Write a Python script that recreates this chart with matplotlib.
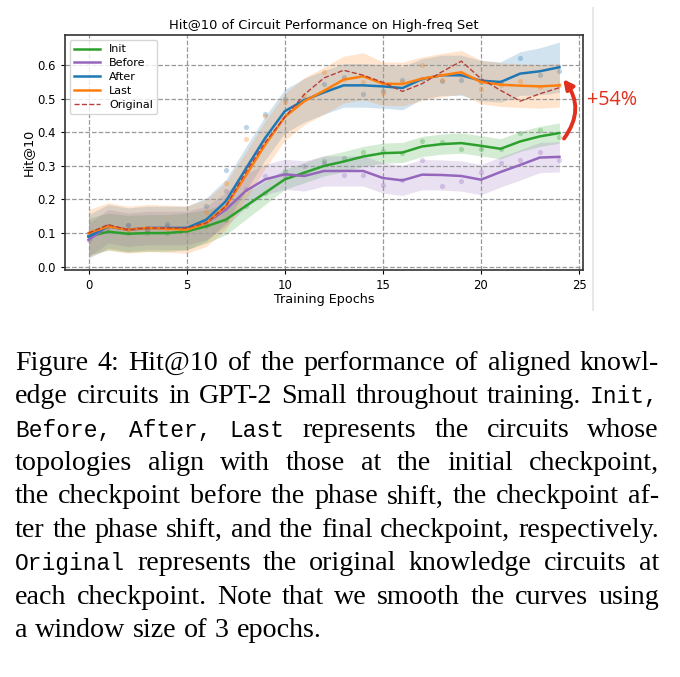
import matplotlib
matplotlib.use("Agg")
import matplotlib.pyplot as plt
from matplotlib.lines import Line2D

# epochs and smoothed curves
epochs = list(range(25))

init_line = [0.090, 0.104, 0.098, 0.100, 0.100, 0.105, 0.120, 0.140, 0.180, 0.220,
             0.260, 0.280, 0.300, 0.313, 0.328, 0.338, 0.340, 0.358, 0.365, 0.368,
             0.360, 0.351, 0.373, 0.388, 0.398]
before_line = [0.080, 0.120, 0.110, 0.115, 0.115, 0.115, 0.130, 0.170, 0.225, 0.260,
               0.275, 0.270, 0.285, 0.285, 0.285, 0.264, 0.257, 0.274, 0.273, 0.270,
               0.259, 0.282, 0.303, 0.325, 0.327]
after_line = [0.090, 0.120, 0.110, 0.115, 0.115, 0.115, 0.140, 0.195, 0.290, 0.383,
              0.463, 0.496, 0.519, 0.540, 0.540, 0.537, 0.532, 0.559, 0.570, 0.570,
              0.554, 0.550, 0.575, 0.582, 0.594]
last_line = [0.100, 0.120, 0.110, 0.115, 0.113, 0.110, 0.130, 0.180, 0.270, 0.363,
             0.446, 0.493, 0.524, 0.557, 0.567, 0.545, 0.544, 0.560, 0.570, 0.579,
             0.550, 0.542, 0.539, 0.537, 0.540]
original_line = [0.100, 0.125, 0.110, 0.115, 0.115, 0.115, 0.130, 0.180, 0.280, 0.370,
                 0.445, 0.513, 0.562, 0.585, 0.570, 0.549, 0.522, 0.545, 0.580, 0.612,
                 0.560, 0.525, 0.493, 0.515, 0.533]

# half-widths of the shaded bands
init_sd = [0.055, 0.055, 0.055, 0.055, 0.055, 0.055, 0.050, 0.045, 0.040, 0.035,
           0.030, 0.030, 0.030, 0.030, 0.030, 0.030, 0.030, 0.030, 0.030, 0.030,
           0.030, 0.030, 0.030, 0.030, 0.030]
before_sd = [0.050, 0.050, 0.050, 0.050, 0.050, 0.050, 0.050, 0.050, 0.050, 0.045,
             0.045, 0.045, 0.045, 0.045, 0.045, 0.045, 0.045, 0.045, 0.045, 0.045,
             0.045, 0.045, 0.045, 0.045, 0.045]
after_sd = [0.065, 0.065, 0.065, 0.065, 0.065, 0.065, 0.065, 0.065, 0.065, 0.065,
            0.065, 0.065, 0.065, 0.065, 0.065, 0.065, 0.065, 0.060, 0.060, 0.060,
            0.060, 0.060, 0.065, 0.070, 0.075]
last_sd = [0.070, 0.070, 0.070, 0.070, 0.070, 0.070, 0.070, 0.070, 0.070, 0.070,
           0.070, 0.070, 0.070, 0.070, 0.070, 0.065, 0.065, 0.065, 0.065, 0.065,
           0.065, 0.065, 0.065, 0.065, 0.065]

# raw (unsmoothed) points
init_raw = [0.090, 0.105, 0.100, 0.100, 0.100, 0.105, 0.120, 0.140, 0.180, 0.220,
            0.285, 0.280, 0.315, 0.324, 0.340, 0.345, 0.338, 0.375, 0.372, 0.351,
            0.351, 0.350, 0.398, 0.406, 0.386]
before_raw = [0.080, 0.120, 0.125, 0.110, 0.120, 0.115, 0.130, 0.224, 0.230, 0.270,
              0.270, 0.300, 0.310, 0.274, 0.272, 0.244, 0.259, 0.318, 0.241, 0.256,
              0.282, 0.309, 0.318, 0.341, 0.318]
after_raw = [0.090, 0.120, 0.125, 0.110, 0.127, 0.115, 0.180, 0.287, 0.416, 0.456,
             0.500, 0.500, 0.544, 0.565, 0.515, 0.522, 0.557, 0.560, 0.554, 0.557,
             0.549, 0.550, 0.620, 0.572, 0.582]
last_raw = [0.100, 0.120, 0.110, 0.115, 0.113, 0.110, 0.164, 0.250, 0.381, 0.450,
            0.490, 0.510, 0.580, 0.560, 0.550, 0.518, 0.550, 0.602, 0.557, 0.570,
            0.530, 0.540, 0.552, 0.535, 0.540]

caption_lines = [
    "Figure 4: Hit@10 of the performance of aligned knowl-",
    "edge circuits in GPT-2 Small throughout training. `Init,",
    "`Before, `After, `Last represents the circuits whose",
    "topologies align with those at the initial checkpoint,",
    "the checkpoint before the phase shift, the checkpoint af-",
    "ter the phase shift, and the final checkpoint, respectively.",
    "`Original represents the original knowledge circuits at",
    "each checkpoint. Note that we smooth the curves using",
    "a window size of 3 epochs.",
]

W, H = 680, 677
fig = plt.figure(figsize=(W / 100, H / 100), dpi=100)
ax = fig.add_axes([65 / W, 1 - 270 / H, (583 - 65) / W, (270 - 35) / H])

series = [
    ("Init", init_line, init_sd, init_raw, "tab:green"),
    ("Before", before_line, before_sd, before_raw, "tab:purple"),
    ("After", after_line, after_sd, after_raw, "tab:blue"),
    ("Last", last_line, last_sd, last_raw, "tab:orange"),
]
for name, line, sd, raw, c in series:
    lo = [m - s for m, s in zip(line, sd)]
    hi = [m + s for m, s in zip(line, sd)]
    ax.fill_between(epochs, lo, hi, color=c, alpha=0.2, lw=0)
    ax.scatter(epochs, raw, s=14, color=c, alpha=0.3, lw=0)
    ax.plot(epochs, line, color=c, lw=1.8, label=name)
ax.plot(epochs, original_line, color="#b5403a", lw=1.0, ls="--", label="Original")

ax.set_xticks([0, 5, 10, 15, 20, 25])
ax.set_yticks([0.0, 0.1, 0.2, 0.3, 0.4, 0.5, 0.6])
ax.set_xlim(-1.2, 25.2)
ax.set_ylim(-0.01, 0.69)
ax.grid(True, ls="--", color="#999999", lw=0.9)
ax.tick_params(labelsize=8.4, length=3)
for sp in ax.spines.values():
    sp.set_color("#333333")
    sp.set_linewidth(1.2)
ax.set_title("Hit@10 of Circuit Performance on High-freq Set", fontsize=9.4, pad=4)
ax.set_xlabel("Training Epochs", fontsize=9.2, labelpad=1)
ax.set_ylabel("Hit@10", fontsize=9.2, labelpad=2)
ax.legend(loc="upper left", fontsize=8, handlelength=2.3, borderaxespad=0.45,
          labelspacing=0.35)

ax.annotate("", xy=(24.1, 0.565), xytext=(24.15, 0.375),
            arrowprops=dict(arrowstyle="-|>", color="#e0301e", lw=2.8,
                            mutation_scale=14, connectionstyle="arc3,rad=0.4"),
            annotation_clip=False)
fig.text(587 / W, 1 - 100 / H, "+54%", color="#e0301e", fontsize=14.2,
         family="Open Sans", va="center", ha="left")

fig.add_artist(Line2D([593 / W, 593 / W], [1 - 8 / H, 1 - 310 / H],
                      transform=fig.transFigure, color="#e8e8e8", lw=1.5))

# justified caption
renderer = fig.canvas.get_renderer()
left, right = 15, 659
for i, line in enumerate(caption_lines):
    y = 1 - (370 + 33.37 * i) / H
    objs = []
    for w in line.split():
        if w.startswith("`"):
            t = fig.text(0, y, w[1:], fontsize=16.5, family="Liberation Mono", va="baseline")
        else:
            t = fig.text(0, y, w, fontsize=20.2, family="Liberation Serif", va="baseline")
        objs.append(t)
    widths = [t.get_window_extent(renderer).width for t in objs]
    if i < len(caption_lines) - 1:
        gap = (right - left - sum(widths)) / (len(objs) - 1)
    else:
        gap = 7.5
    x = left
    for t, wd in zip(objs, widths):
        t.set_x(x / W)
        x += wd + gap

fig.savefig("out.png", dpi=100)
